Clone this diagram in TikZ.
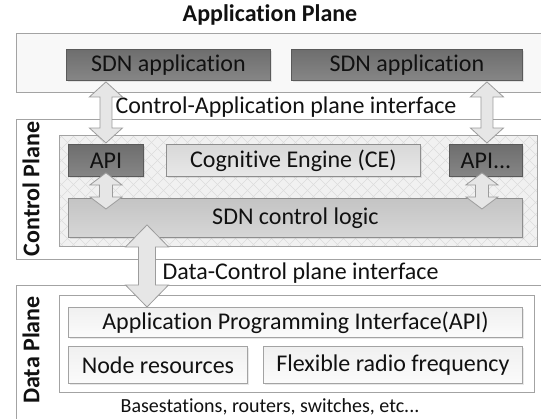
\documentclass[tikz,border=0pt]{standalone}
\usepackage{fontspec}
\setmainfont{Carlito}[Ligatures={NoCommon,NoContextual}]
\usepackage{tikz}
\usetikzlibrary{positioning,calc,shadows}
\definecolor{ink}     {HTML}{111111}
\definecolor{rim}     {HTML}{A3A3A3}
\definecolor{darkrim} {HTML}{5A5A5A}
\definecolor{midrim}  {HTML}{8E8E8E}
\definecolor{darktop} {HTML}{6E6E6E}
\definecolor{darkbot} {HTML}{868686}
\definecolor{midtop}  {HTML}{C4C4C4}
\definecolor{midbot}  {HTML}{D6D6D6}
\definecolor{lighttop}{HTML}{D8D8D8}
\definecolor{lightbot}{HTML}{E8E8E8}
\definecolor{paletop} {HTML}{F0F0F0}
\definecolor{palebot} {HTML}{FBFBFB}
\definecolor{hatchbg} {HTML}{F1F1F1}
\definecolor{hatchln} {HTML}{DCDCDC}
\definecolor{arrfill} {HTML}{E6E6E6}
\definecolor{arrrim}  {HTML}{9C9C9C}
\definecolor{appbg}   {HTML}{F8F8F8}
\tikzset{
  every node/.style={font=\fontsize{24}{28}\selectfont, text=ink},
  % --- boxes
  plane/.style   = {draw=rim, line width=0.9pt, fill=white, anchor=north west, inner sep=0pt},
  darkbox/.style = {draw=darkrim, top color=darktop, bottom color=darkbot, line width=0.9pt,
                    anchor=north west, inner sep=0pt,
                    drop shadow={opacity=0.18, shadow xshift=1.2pt, shadow yshift=-1.2pt}},
  midbox/.style  = {darkbox, draw=midrim, top color=midtop, bottom color=midbot},
  cebox/.style   = {darkbox, draw=midrim, top color=lighttop, bottom color=lightbot},
  palebox/.style = {darkbox, draw=rim, top color=paletop, bottom color=palebot},
  % --- labels
  lbl/.style     = {font=\fontsize{24}{28}\selectfont\bfseries},
  note/.style    = {font=\fontsize{20}{24}\selectfont},
  % --- arrows and hatching
  blk/.style     = {draw=arrrim, fill=arrfill, line width=0.8pt, line join=miter},
  hatchline/.style = {draw=hatchln, line width=0.6pt},
}
% block arrow with two heads: top tip, bottom tip, half head, half shaft, head length
\newcommand{\vdarrow}[5]{%
  \draw[blk] (#1) -- ++(#3,#5) -- ++({-#3+#4},0) -- ($(#2)+(#4,-#5)$) -- ++({#3-#4},0)
    -- (#2) -- ++(-#3,-#5) -- ++({#3-#4},0) -- ($(#1)+(-#4,#5)$) -- ++({-#3+#4},0) -- cycle;}

\begin{document}
\begin{tikzpicture}[x=1pt,y=-1pt]
  \clip (0,0) rectangle (541,418);

  % application plane
  \node[lbl] (apptitle) at (270,15) {Application Plane};
  \node[plane, fill=appbg, minimum width=540pt, minimum height=59pt] (appplane) at (16,33) {};
  \node[darkbox, minimum width=204pt, minimum height=31pt] (app1) at (66,49) {SDN application};
  \node[darkbox, minimum width=231pt, minimum height=31pt] (app2) at (291,49) {SDN application};

  % control plane
  \node[plane, minimum width=540pt, minimum height=140pt] (ctrlplane) at (16,119) {};
  \node[lbl, rotate=90] (ctrllbl) at (31,189) {Control Plane};
  \node[plane, fill=hatchbg, minimum width=478pt, minimum height=111pt] (hatch) at (59,135) {};
  \begin{scope}
    \clip (hatch.south west) rectangle (hatch.north east);
    \foreach \k in {-60,-48,...,540} {
      \draw[hatchline] (\k,135) -- ++(111,111);
      \draw[hatchline] (\k,246) -- ++(111,-111);
    }
  \end{scope}
  \draw[draw=rim, line width=0.9pt] (hatch.south west) rectangle (hatch.north east);
  \node[darkbox, minimum width=75pt, minimum height=32pt] (api1) at (68,144) {API};
  \node[cebox, minimum width=254pt, minimum height=32pt] (ce) at (166,144) {Cognitive Engine (CE)};
  \node[darkbox, minimum width=73pt, minimum height=32pt] (api2) at (449,144) {API...};
  \node[midbox, minimum width=454pt, minimum height=39pt] (logic) at (68,198) {SDN control logic};

  % data plane
  \node[plane, minimum width=540pt, minimum height=140pt] (dataplane) at (16,285) {};
  \node[lbl, rotate=90] (datalbl) at (31,350) {Data Plane};
  \node[plane, minimum width=475pt, minimum height=97pt] (datain) at (59,295) {};
  \node[palebox, minimum width=454pt, minimum height=30pt] (dapi) at (68,307)
    {Application Programming Interface(API)};
  \node[palebox, minimum width=179pt, minimum height=37pt] (nres) at (68,346) {Node resources};
  \node[palebox, minimum width=259pt, minimum height=37pt] (radio) at (263,346)
    {Flexible radio frequency};
  \node[note] (devices) at (270,407) {Basestations, routers, switches, etc...};

  % interfaces
  \node[anchor=west] (caif) at (112,107) {Control-Application plane interface};
  \node[anchor=west] (dcif) at (159,273) {Data-Control plane interface};

  \coordinate (ca1top) at ($(api1.north |- app1.south)+(0,1)$);
  \coordinate (ca1bot) at ($(api1.north)+(0,-1)$);
  \coordinate (ca2top) at ($(api2.north |- app2.south)+(1,1)$);
  \coordinate (ca2bot) at ($(api2.north)+(1,-1)$);
  \vdarrow{ca1top}{ca1bot}{16.5}{6}{15}
  \vdarrow{ca2top}{ca2bot}{16.5}{6}{15}

  \coordinate (cl1top) at ($(api1.south)+(0,-4)$);
  \coordinate (cl1bot) at ($(api1.south |- logic.north)+(0,11)$);
  \coordinate (cl2top) at ($(api2.south)+(-4,-4)$);
  \coordinate (cl2bot) at ($(api2.south |- logic.north)+(-4,11)$);
  \vdarrow{cl1top}{cl1bot}{16}{6.5}{12}
  \vdarrow{cl2top}{cl2bot}{16}{6.5}{12}

  \coordinate (dctop) at ($(logic.south west)+(79,-13)$);
  \coordinate (dcbot) at (dctop |- dapi.north);
  \vdarrow{dctop}{dcbot}{21.5}{8.5}{22}
\end{tikzpicture}
\end{document}
